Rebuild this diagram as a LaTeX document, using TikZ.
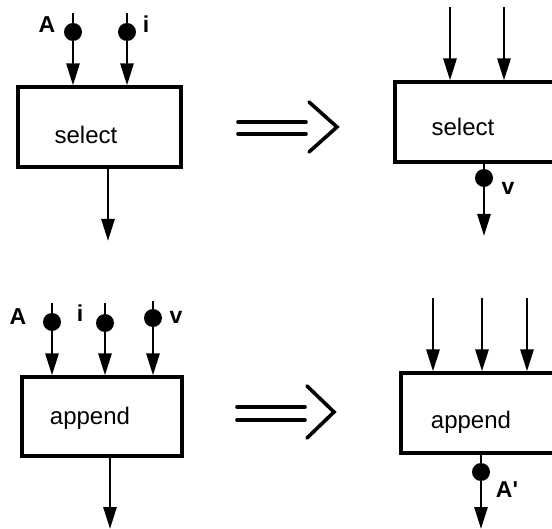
\documentclass[tikz,border=0pt]{standalone}
\usepackage{fontspec}
\setmainfont{Liberation Sans}
\usetikzlibrary{arrows.meta}
\begin{document}
\begin{tikzpicture}[x=1pt,y=-1pt,
  blk/.style={draw,line width=3.2pt,inner sep=0pt},
  lbl/.style={font=\fontsize{24}{26}\selectfont,inner sep=0pt},
  tag/.style={font=\fontsize{23}{25}\selectfont\bfseries,inner sep=0pt},
  dot/.style={circle,fill,inner sep=0pt,minimum size=18pt},
  wire/.style={line width=2.8pt},
  flow/.style={wire,-{Triangle[length=22pt,width=13pt]}},
  imp/.style={line width=3.6pt,line cap=round,line join=miter}]
\useasboundingbox (0,0) rectangle (552,529);
\clip (0,0) rectangle (552,529);

% ---- select, before ----
\node[blk,minimum width=163pt,minimum height=80pt] (s1) at (99.5,127) {};
\node[lbl] (s1t) at (86,135) {select};
\coordinate (s1a0) at (73,13);
\coordinate (s1b0) at (127,13);
\node[dot] (s1a) at (73,32) {};
\node[dot] (s1b) at (127,32) {};
\node[tag] (s1al) at (47,25) {A};
\node[tag] (s1bl) at (146,24) {i};
\draw[wire] (s1a0) -- (s1a);
\draw[wire] (s1b0) -- (s1b);
\draw[flow] (s1a) -- (s1a |- s1.north);
\draw[flow] (s1b) -- (s1b |- s1.north);
\coordinate (s1o) at (108,241);
\draw[flow] (s1o |- s1.south) -- (s1o);

% ---- select, after ----
\node[blk,minimum width=180pt,minimum height=80pt] (s2) at (485,122) {};
\node[lbl] (s2t) at (463,127) {select};
\coordinate (s2a0) at (450,7);
\coordinate (s2b0) at (504,7);
\draw[flow] (s2a0) -- (s2a0 |- s2.north);
\draw[flow] (s2b0) -- (s2b0 |- s2.north);
\node[dot] (s2v) at (484,178) {};
\node[tag] (s2vl) at (508,188) {v};
\coordinate (s2o) at (484,236);
\draw[wire] (s2o |- s2.south) -- (s2v);
\draw[flow] (s2v) -- (s2o);

% ---- append, before ----
\node[blk,minimum width=160pt,minimum height=79pt] (p1) at (102,416.5) {};
\node[lbl] (p1t) at (90,418) {append};
\coordinate (p1a0) at (52,303);
\coordinate (p1b0) at (105,303);
\coordinate (p1c0) at (153,301);
\node[dot] (p1a) at (52,322) {};
\node[dot] (p1b) at (105,323) {};
\node[dot] (p1c) at (153,318) {};
\node[tag] (p1al) at (18,317) {A};
\node[tag] (p1bl) at (80,313) {i};
\node[tag] (p1cl) at (176,317) {v};
\draw[wire] (p1a0) -- (p1a);
\draw[wire] (p1b0) -- (p1b);
\draw[wire] (p1c0) -- (p1c);
\draw[flow] (p1a) -- (p1a |- p1.north);
\draw[flow] (p1b) -- (p1b |- p1.north);
\draw[flow] (p1c) -- (p1c |- p1.north);
\coordinate (p1o) at (110,529);
\draw[flow] (p1o |- p1.south) -- (p1o);

% ---- append, after ----
\node[blk,minimum width=180pt,minimum height=80pt] (p2) at (491,413) {};
\node[lbl] (p2t) at (471,422) {append};
\coordinate (p2a0) at (433,298);
\coordinate (p2b0) at (482,298);
\coordinate (p2c0) at (527,298);
\draw[flow] (p2a0) -- (p2a0 |- p2.north);
\draw[flow] (p2b0) -- (p2b0 |- p2.north);
\draw[flow] (p2c0) -- (p2c0 |- p2.north);
\node[dot] (p2v) at (481,472) {};
\node[tag] (p2vl) at (507,490) {A\textquotesingle};
\coordinate (p2o) at (481,529);
\draw[wire] (p2o |- p2.south) -- (p2v);
\draw[flow] (p2v) -- (p2o);

% ---- rewrite arrows ----
\draw[imp] (238,122) -- (306,122);
\draw[imp] (238,134) -- (306,134);
\draw[imp] (309,102) -- (337,127) -- (309,152);
\draw[imp] (237,407) -- (305,407);
\draw[imp] (237,420) -- (305,420);
\draw[imp] (307,386) -- (334,412) -- (307,438);
\end{tikzpicture}
\end{document}
